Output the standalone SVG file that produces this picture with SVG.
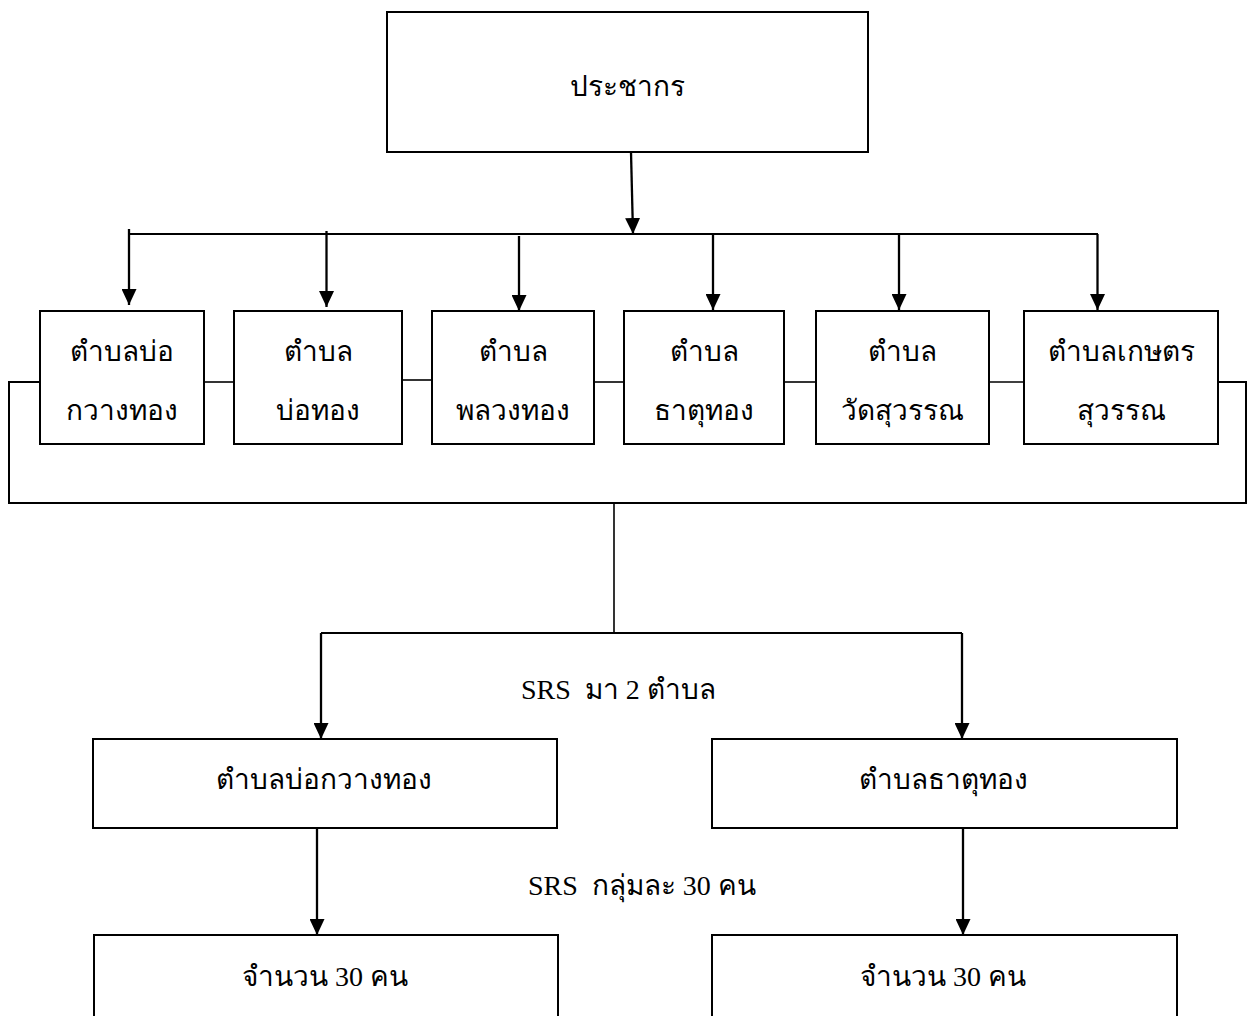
<svg xmlns="http://www.w3.org/2000/svg" width="1251" height="1016" viewBox="0 0 1251 1016">
<style>
.box{fill:#fff;stroke:#000;stroke-width:2}
.t{font-family:"Liberation Serif",serif;font-size:28px;fill:#000;text-anchor:middle}
.tl{font-family:"Liberation Serif",serif;font-size:28px;fill:#000;white-space:pre}
.c{fill:none;stroke:#000;stroke-width:2}
.cs{fill:none;stroke:#000;stroke-width:1.6}
.arr{fill:none;stroke:#000;stroke-width:2.3;marker-end:url(#ah)}
</style>
<defs>
<marker id="ah" viewBox="0 0 16 15" refX="16" refY="7.5" markerWidth="16" markerHeight="15" markerUnits="userSpaceOnUse" orient="auto">
<path d="M0,0 L16,7.5 L0,15 z" fill="#000"/>
</marker>
</defs>
<rect width="1251" height="1016" fill="#fff"/>
<g id="connectors">
<line class="arr" x1="631" y1="152" x2="633" y2="234"/>
<line class="c" x1="129" y1="234" x2="1098" y2="234"/>
<line class="arr" x1="129" y1="229" x2="129" y2="305"/>
<line class="arr" x1="326.5" y1="231" x2="326.5" y2="307"/>
<line class="arr" x1="519" y1="236" x2="519" y2="311"/>
<line class="arr" x1="713" y1="234" x2="713" y2="310"/>
<line class="arr" x1="899" y1="234" x2="899" y2="310"/>
<line class="arr" x1="1097.5" y1="234" x2="1097.5" y2="310"/>
<line class="cs" x1="204" y1="382" x2="234" y2="382"/>
<line class="cs" x1="402" y1="380" x2="432" y2="380"/>
<line class="cs" x1="594" y1="382" x2="624" y2="382"/>
<line class="cs" x1="784" y1="382" x2="816" y2="382"/>
<line class="cs" x1="989" y1="382" x2="1024" y2="382"/>
<polyline class="c" points="40,382 9,382 9,503 1246,503 1246,382 1218,382"/>
<line class="cs" x1="614" y1="503" x2="614" y2="633"/>
<line class="c" x1="321" y1="633" x2="962" y2="633"/>
<line class="arr" x1="321" y1="633" x2="321" y2="739"/>
<line class="arr" x1="962" y1="633" x2="962" y2="739"/>
<line class="arr" x1="317" y1="828" x2="317" y2="935"/>
<line class="arr" x1="963" y1="828" x2="963" y2="935"/>
<text class="tl" x="521" y="699" xml:space="preserve">SRS  มา 2 ตำบล</text>
<text class="tl" x="528" y="895" xml:space="preserve">SRS  กลุ่มละ 30 คน</text>
</g>
<g id="n-pop">
<rect class="box" x="387" y="12" width="481" height="140"/>
<text class="t" x="627" y="96">ประชากร</text>
</g>
<g id="n-t1">
<rect class="box" x="40" y="311" width="164" height="133"/>
<text class="t" x="122" y="361">ตำบลบ่อ</text>
<text class="t" x="122" y="420">กวางทอง</text>
</g>
<g id="n-t2">
<rect class="box" x="234" y="311" width="168" height="133"/>
<text class="t" x="318" y="361">ตำบล</text>
<text class="t" x="318" y="420">บ่อทอง</text>
</g>
<g id="n-t3">
<rect class="box" x="432" y="311" width="162" height="133"/>
<text class="t" x="513" y="361">ตำบล</text>
<text class="t" x="513" y="420">พลวงทอง</text>
</g>
<g id="n-t4">
<rect class="box" x="624" y="311" width="160" height="133"/>
<text class="t" x="704" y="361">ตำบล</text>
<text class="t" x="704" y="420">ธาตุทอง</text>
</g>
<g id="n-t5">
<rect class="box" x="816" y="311" width="173" height="133"/>
<text class="t" x="902" y="361">ตำบล</text>
<text class="t" x="902" y="420">วัดสุวรรณ</text>
</g>
<g id="n-t6">
<rect class="box" x="1024" y="311" width="194" height="133"/>
<text class="t" x="1121" y="361">ตำบลเกษตร</text>
<text class="t" x="1121" y="420">สุวรรณ</text>
</g>
<g id="n-s1">
<rect class="box" x="93" y="739" width="464" height="89"/>
<text class="t" x="324" y="789">ตำบลบ่อกวางทอง</text>
</g>
<g id="n-s2">
<rect class="box" x="712" y="739" width="465" height="89"/>
<text class="t" x="943" y="789">ตำบลธาตุทอง</text>
</g>
<g id="n-r1">
<rect class="box" x="94" y="935" width="464" height="120"/>
<text class="t" x="325" y="986">จำนวน 30 คน</text>
</g>
<g id="n-r2">
<rect class="box" x="712" y="935" width="465" height="120"/>
<text class="t" x="943" y="986">จำนวน 30 คน</text>
</g>
</svg>
